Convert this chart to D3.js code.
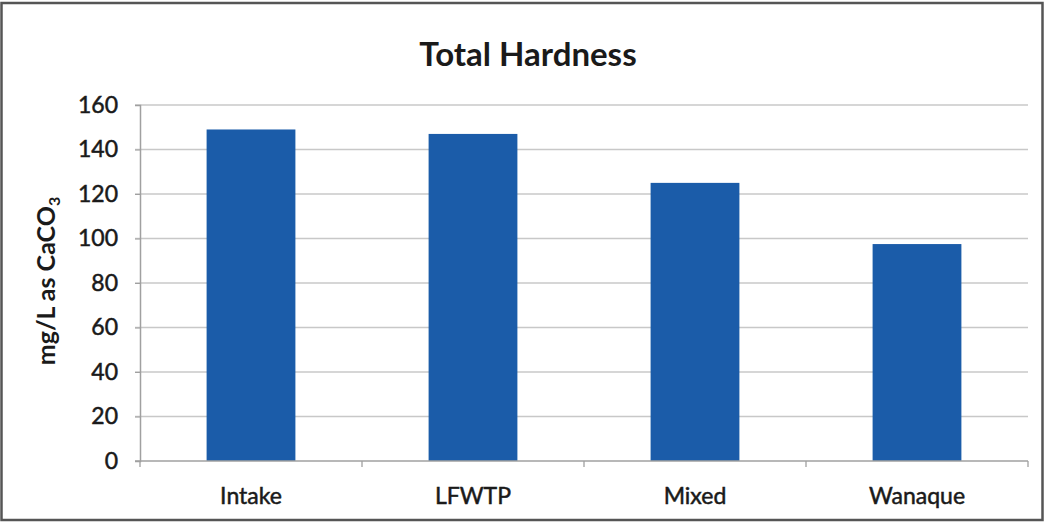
<!DOCTYPE html>
<html><head><meta charset="utf-8">
<script src="https://cdn.jsdelivr.net/npm/d3@7"></script>
<style>body{margin:0;background:#fff}svg{display:block}text{font-family:Lato,"Open Sans",sans-serif;fill:#1a1a1a}</style>
</head><body>
<script>
const categories = ["Intake", "LFWTP", "Mixed", "Wanaque"];
const values = [149, 147, 125, 97.5];
const yTicks = [0, 20, 40, 60, 80, 100, 120, 140, 160];
const title = "Total Hardness";

const W = 1044, H = 525;
const svg = d3.select("body").append("svg").attr("width", W).attr("height", H);
svg.append("rect").attr("x", 1.5).attr("y", 3).attr("width", W - 3).attr("height", H - 8)
  .attr("fill", "#fff").attr("stroke", "#555").attr("stroke-width", 2.5);

const x = d3.scaleBand().domain(categories).range([140, 1028]).paddingInner(0.6).paddingOuter(0.3);
const y = d3.scaleLinear().domain([0, 160]).range([461, 105]);

// gridlines
svg.append("g").selectAll("line").data(yTicks.slice(1)).join("line")
  .attr("x1", 135).attr("x2", 1028).attr("y1", d => y(d)).attr("y2", d => y(d))
  .attr("stroke", "#c8c8c8").attr("stroke-width", 1.3);

// bars
svg.append("g").selectAll("rect").data(values).join("rect")
  .attr("x", (d, i) => x(categories[i])).attr("width", x.bandwidth())
  .attr("y", d => y(d)).attr("height", d => y(0) - y(d))
  .attr("fill", "#1b5ca9");

// y axis
const ya = svg.append("g").attr("transform", "translate(140,0)")
  .call(d3.axisLeft(y).tickValues(yTicks).tickSize(5).tickPadding(17));
ya.select(".domain").attr("stroke", "#a0a0a0").attr("stroke-width", 1.5);
ya.selectAll(".tick line").attr("stroke", "#a0a0a0");
ya.selectAll("text").style("font-size", "23px").attr("fill", "#1a1a1a")
  .attr("stroke", "#1a1a1a").attr("stroke-width", 0.5);

// x axis
const xa = svg.append("g").attr("transform", `translate(0,${y(0)})`)
  .call(d3.axisBottom(x).tickSize(0).tickPadding(27));
xa.select(".domain").attr("stroke", "#a0a0a0").attr("stroke-width", 1.5).attr("d", "M135,0H1028");
xa.selectAll("text").style("font-size", "23px").attr("fill", "#1a1a1a")
  .attr("stroke", "#1a1a1a").attr("stroke-width", 0.5);
// category separator ticks
const step = x.step();
const seps = d3.range(categories.length + 1).map(i => x.range()[0] + i * step);
xa.append("g").selectAll("line").data(seps).join("line")
  .attr("x1", d => d).attr("x2", d => d).attr("y1", 0).attr("y2", 6)
  .attr("stroke", "#a0a0a0").attr("stroke-width", 1.3);

// title
svg.append("text").attr("x", 528).attr("y", 66).attr("text-anchor", "middle")
  .style("font-size", "33px").style("font-weight", "bold").text(title);

// y label
const yl = svg.append("text").attr("transform", "translate(55,281) rotate(-90)")
  .attr("text-anchor", "middle").style("font-size", "25px").style("font-weight", "bold");
yl.append("tspan").text("mg/L as CaCO");
yl.append("tspan").attr("dy", 5).style("font-size", "16px").text("3");
</script>
</body></html>
